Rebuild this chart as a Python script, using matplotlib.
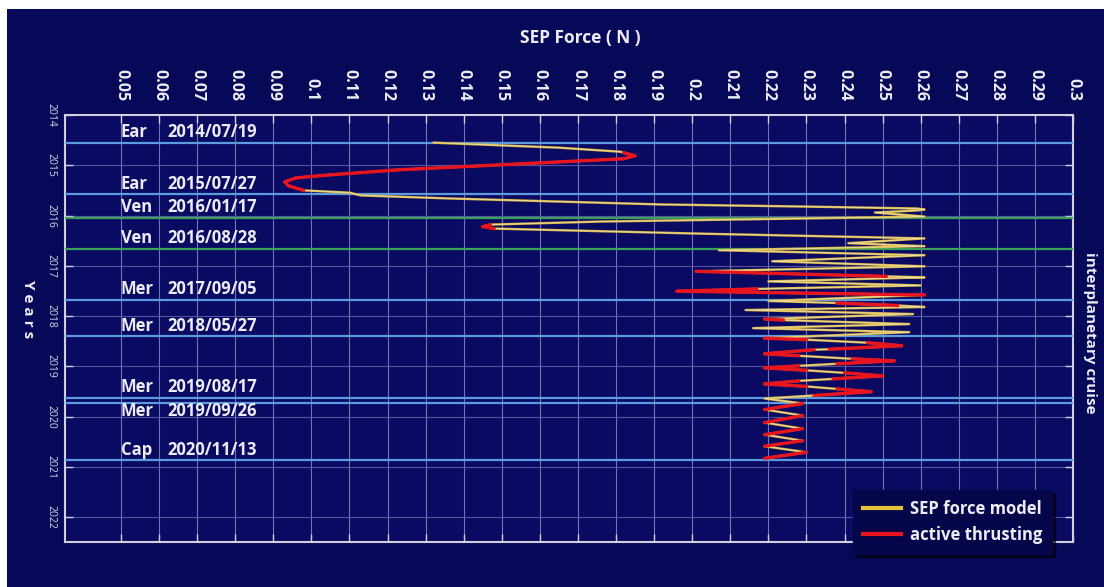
import matplotlib
matplotlib.use('Agg')
import matplotlib.pyplot as plt
from matplotlib.lines import Line2D
from matplotlib.patches import Rectangle

plt.rcParams['font.family'] = ['Open Sans', 'DejaVu Sans']

# --- data ---
event_body = ['Ear', 'Ear', 'Ven', 'Ven', 'Mer', 'Mer', 'Mer', 'Mer', 'Cap']
event_date = ['2014/07/19', '2015/07/27', '2016/01/17', '2016/08/28', '2017/09/05',
              '2018/05/27', '2019/08/17', '2019/09/26', '2020/11/13']

x_ticks = [0.05, 0.06, 0.07, 0.08, 0.09, 0.1, 0.11, 0.12, 0.13, 0.14, 0.15, 0.16, 0.17,
           0.18, 0.19, 0.2, 0.21, 0.22, 0.23, 0.24, 0.25, 0.26, 0.27, 0.28, 0.29, 0.3]
year_ticks = [2014, 2015, 2016, 2017, 2018, 2019, 2020, 2021, 2022]

# SEP force along the trajectory (N) vs. time (decimal years)
force_n = [0.132, 0.165, 0.181, 0.182, 0.185, 0.182, 0.150, 0.123, 0.105, 0.096,
           0.093, 0.094, 0.098, 0.110, 0.113, 0.136, 0.192, 0.228, 0.259, 0.261,
           0.259, 0.248, 0.261, 0.228, 0.176, 0.147, 0.145, 0.148, 0.202, 0.261,
           0.241, 0.261, 0.207, 0.261, 0.221, 0.261, 0.201, 0.251, 0.261, 0.220,
           0.260, 0.217, 0.196, 0.261, 0.220, 0.238, 0.254, 0.261, 0.214, 0.258,
           0.219, 0.224, 0.257, 0.216, 0.257, 0.219, 0.230, 0.246, 0.255, 0.236,
           0.232, 0.219, 0.228, 0.242, 0.253, 0.238, 0.228, 0.219, 0.230, 0.240,
           0.250, 0.237, 0.228, 0.219, 0.230, 0.238, 0.247, 0.232, 0.219, 0.229,
           0.219, 0.229, 0.219, 0.229, 0.219, 0.229, 0.219, 0.230, 0.219]
years = [2014.55, 2014.65, 2014.73, 2014.75, 2014.81, 2014.87, 2014.99, 2015.09, 2015.19, 2015.25,
         2015.33, 2015.41, 2015.50, 2015.545, 2015.60, 2015.66, 2015.78, 2015.82, 2015.86, 2015.88,
         2015.90, 2015.94, 2016.02, 2016.06, 2016.12, 2016.18, 2016.22, 2016.26, 2016.36, 2016.455,
         2016.55, 2016.61, 2016.69, 2016.79, 2016.91, 2017.01, 2017.11, 2017.21, 2017.23, 2017.31,
         2017.39, 2017.46, 2017.505, 2017.58, 2017.70, 2017.74, 2017.79, 2017.82, 2017.88, 2017.96,
         2018.06, 2018.08, 2018.16, 2018.24, 2018.32, 2018.44, 2018.47, 2018.53, 2018.59, 2018.66,
         2018.67, 2018.75, 2018.79, 2018.85, 2018.89, 2018.95, 2018.99, 2019.03, 2019.08, 2019.13,
         2019.19, 2019.25, 2019.29, 2019.35, 2019.40, 2019.45, 2019.505, 2019.58, 2019.64, 2019.74,
         2019.86, 2019.98, 2020.12, 2020.24, 2020.36, 2020.48, 2020.59, 2020.71, 2020.83]
# 1 = engine thrusting on the piece that starts at this point
thrust = [0, 0, 0, 1, 1, 1, 1, 1, 1, 1,
          1, 1, 0, 0, 0, 0, 0, 0, 0, 0,
          0, 0, 0, 0, 0, 1, 1, 0, 0, 0,
          0, 0, 0, 0, 0, 0, 1, 0, 0, 0,
          0, 1, 1, 0, 0, 1, 0, 0, 0, 0,
          1, 0, 0, 0, 0, 1, 0, 1, 1, 0,
          1, 1, 0, 1, 1, 0, 1, 1, 0, 1,
          1, 0, 1, 1, 0, 1, 1, 0, 0, 1,
          0, 1, 0, 1, 0, 1, 0, 1, 0]

legend_labels = ['SEP force model', 'active thrusting']


def decimal_year(s):
    y, m, d = (int(v) for v in s.split('/'))
    return y + (m - 1) / 12 + (d - 1) / 365


navy = '#080858'
txt = '#ececf4'
yellow = '#d9b540'
red = '#e8141e'

fig = plt.figure(figsize=(11.04, 5.87), dpi=100, facecolor='white')
fig.patches.append(Rectangle((7 / 1104, 0), 1, 1 - 9 / 587, transform=fig.transFigure,
                             facecolor=navy, edgecolor='none', zorder=-10))

ax = fig.add_axes([65 / 1104, 1 - 542 / 587, 1008 / 1104, 427 / 587])
ax.set_facecolor('#0a0a62')
ax.set_xlim(0.0353, 0.30)
ax.set_ylim(2022.495, 2014.04)

# grid
for xv in x_ticks[:-1]:
    ax.axvline(xv, color='#8686c4', lw=0.8, alpha=0.85, zorder=1)
for yv in year_ticks[1:]:
    ax.axhline(yv, color='#5c5ca6', lw=0.8, alpha=0.9, zorder=1)

# events
ev_years = [decimal_year(d) for d in event_date]
prev = None
for body, date, ey in zip(event_body, event_date, ev_years):
    c = '#3aa05a' if body == 'Ven' else '#5b9be0'
    ax.axhline(ey, color=c, lw=1.6, zorder=3)
    dy = -5.5 if (prev is not None and ey - prev < 0.2) else 7.5
    ax.annotate(body, (0.05, ey), xytext=(0, dy), textcoords='offset points',
                ha='left', va='center', color=txt, fontsize=12, fontweight='bold', zorder=7)
    ax.annotate(date, (0.0857, ey), xytext=(0, dy), textcoords='offset points',
                ha='right', va='center', color=txt, fontsize=12, fontweight='bold', zorder=7)
    prev = ey

# force curve
ax.plot(force_n, years, color=yellow, lw=1.7, solid_capstyle='round', zorder=4)
ax.plot(force_n, years, color='#eee4bc', lw=0.5, zorder=5)
for i in range(len(force_n) - 1):
    if thrust[i]:
        ax.plot(force_n[i:i + 2], years[i:i + 2], color=red, lw=2.4,
                solid_capstyle='round', zorder=6)

# axes styling
for s in ax.spines.values():
    s.set_color('#d0d0dc')
    s.set_linewidth(1.5)
ax.set_xticks(x_ticks)
ax.set_xticklabels(['{:g}'.format(v) for v in x_ticks], rotation=-90, fontweight='bold')
ax.set_yticks(year_ticks)
ax.set_yticklabels([str(v) for v in year_ticks], rotation=-90, va='center', fontsize=7.5)
ax.tick_params(axis='x', top=True, bottom=True, labeltop=True, labelbottom=False,
               direction='in', length=6, width=1, color='#d0d0dc', labelcolor=txt,
               labelsize=11.5, pad=10)
ax.tick_params(axis='y', left=True, right=True, direction='in', length=6, width=1,
               color='#d0d0dc', labelcolor='#d8d8e4', pad=6)

fig.text(580 / 1104, 1 - 38 / 587, 'SEP Force ( N )', ha='center', va='center',
         color=txt, fontsize=12.5, fontweight='bold')
fig.text(28 / 1104, 1 - 309 / 587, 'Y e a r s', ha='center', va='center', rotation=-90,
         color=txt, fontsize=11, fontweight='bold')
fig.text(1090 / 1104, 1 - 333 / 587, 'interplanetary cruise', ha='center', va='center',
         rotation=-90, color=txt, fontsize=11, fontweight='bold')

handles = [Line2D([], [], color='#e6c23c', lw=3), Line2D([], [], color=red, lw=3)]
leg = ax.legend(handles, legend_labels, loc='upper left',
                bbox_to_anchor=(853 / 1104, 1 - 490 / 587), bbox_transform=fig.transFigure,
                frameon=True, fancybox=False, facecolor='#05054a', edgecolor='#05054a',
                framealpha=1, shadow={'color': 'black', 'alpha': 0.6},
                prop={'weight': 'bold', 'size': 12}, labelcolor=txt, handlelength=2.3,
                borderpad=0.6, labelspacing=0.5, handletextpad=0.5, borderaxespad=0)
leg.set_zorder(10)

fig.savefig('out.png', dpi=100, facecolor=fig.get_facecolor())
